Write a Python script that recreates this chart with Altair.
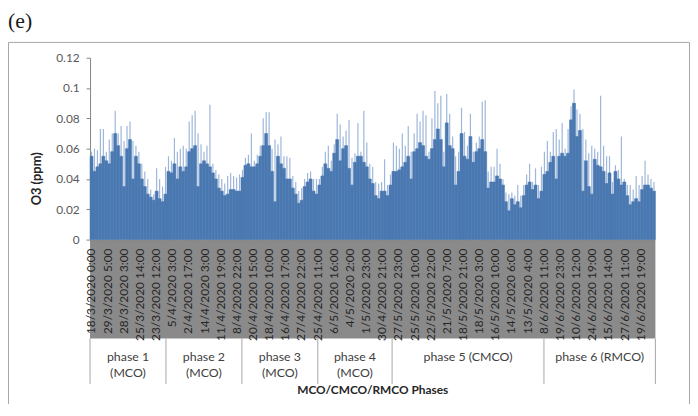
import altair as alt
import pandas as pd

# ---- values (O3 ppm), one sample per ~3 px ----
PEAK = [
    0.058, 0.060, 0.059, 0.073, 0.073, 0.058, 0.066, 0.070, 0.085, 0.070,
    0.075, 0.065, 0.075, 0.078, 0.065, 0.062, 0.058, 0.050, 0.045, 0.040,
    0.033, 0.030, 0.047, 0.040, 0.035, 0.048, 0.055, 0.052, 0.067, 0.058,
    0.060, 0.062, 0.060, 0.078, 0.082, 0.085, 0.070, 0.063, 0.058,
    0.062, 0.089, 0.050, 0.046, 0.043, 0.040, 0.037, 0.042, 0.044, 0.042,
    0.041, 0.043, 0.046, 0.054, 0.056, 0.070, 0.052, 0.056, 0.062, 0.080,
    0.084, 0.084, 0.060, 0.066, 0.063, 0.068, 0.055, 0.055, 0.054, 0.042,
    0.038, 0.032, 0.034, 0.040, 0.044, 0.045, 0.040, 0.040,
    0.040, 0.048, 0.058, 0.062, 0.052, 0.063, 0.083, 0.076, 0.068, 0.072,
    0.079, 0.054, 0.057, 0.077, 0.058, 0.085, 0.064, 0.050, 0.048, 0.038,
    0.037, 0.038, 0.053, 0.036, 0.043, 0.064, 0.062, 0.060, 0.070, 0.062,
    0.075, 0.058, 0.070, 0.083, 0.078, 0.085, 0.082, 0.058,
    0.080, 0.098, 0.090, 0.095, 0.058, 0.096, 0.083, 0.068, 0.055, 0.058,
    0.087, 0.071, 0.062, 0.083, 0.058, 0.064, 0.068, 0.091, 0.092, 0.045,
    0.048, 0.048, 0.060, 0.050, 0.040, 0.031, 0.030, 0.031, 0.029, 0.036,
    0.029, 0.036, 0.043, 0.050, 0.038, 0.047, 0.036, 0.048,
    0.058, 0.065, 0.058, 0.071, 0.073, 0.066, 0.077, 0.060, 0.073, 0.088,
    0.099, 0.086, 0.083, 0.073, 0.066, 0.057, 0.062, 0.060, 0.058, 0.095,
    0.062, 0.055, 0.055, 0.038, 0.049, 0.046, 0.068, 0.040, 0.036, 0.036,
    0.033, 0.042, 0.036, 0.042, 0.052, 0.043, 0.040, 0.038,
]
BODY = [
    0.055, 0.045, 0.048, 0.050, 0.055, 0.052, 0.050, 0.058, 0.070, 0.062,
    0.055, 0.035, 0.060, 0.066, 0.040, 0.055, 0.050, 0.040, 0.035, 0.030,
    0.028, 0.026, 0.032, 0.027, 0.025, 0.030, 0.045, 0.044, 0.050, 0.040,
    0.048, 0.045, 0.048, 0.058, 0.060, 0.062, 0.035, 0.050, 0.052,
    0.050, 0.048, 0.044, 0.040, 0.034, 0.032, 0.029, 0.030, 0.033, 0.033,
    0.032, 0.032, 0.041, 0.049, 0.050, 0.048, 0.048, 0.050, 0.055, 0.062,
    0.070, 0.062, 0.045, 0.025, 0.055, 0.050, 0.047, 0.040, 0.040, 0.034,
    0.030, 0.024, 0.026, 0.035, 0.038, 0.040, 0.032, 0.030,
    0.036, 0.042, 0.050, 0.047, 0.045, 0.057, 0.066, 0.052, 0.060, 0.062,
    0.047, 0.036, 0.051, 0.055, 0.055, 0.051, 0.048, 0.040, 0.037, 0.029,
    0.027, 0.032, 0.032, 0.029, 0.036, 0.045, 0.045, 0.046, 0.048, 0.051,
    0.055, 0.040, 0.058, 0.060, 0.064, 0.062, 0.055, 0.053,
    0.060, 0.066, 0.073, 0.066, 0.048, 0.077, 0.062, 0.060, 0.036, 0.045,
    0.070, 0.055, 0.053, 0.068, 0.051, 0.058, 0.060, 0.066, 0.058, 0.034,
    0.038, 0.038, 0.042, 0.040, 0.036, 0.025, 0.019, 0.027, 0.023, 0.025,
    0.021, 0.029, 0.036, 0.038, 0.033, 0.036, 0.027, 0.032,
    0.043, 0.045, 0.051, 0.055, 0.040, 0.055, 0.057, 0.055, 0.057, 0.079,
    0.090, 0.068, 0.072, 0.032, 0.052, 0.035, 0.030, 0.053, 0.049, 0.048,
    0.045, 0.037, 0.044, 0.030, 0.045, 0.040, 0.036, 0.038, 0.029, 0.023,
    0.025, 0.027, 0.025, 0.033, 0.036, 0.036, 0.034, 0.032,
]
DATE_LABELS = [
    "18/3/2020 0:00", "29/3/2020 5:00", "28/3/2020 3:00", "25/3/2020 14:00",
    "23/3/2020 12:00", "5/4/2020 3:00", "2/4/2020 17:00", "14/4/2020 3:00",
    "11/4/2020 19:00", "8/4/2020 22:00", "20/4/2020 15:00", "18/4/2020 10:00",
    "16/4/2020 17:00", "27/4/2020 22:00", "25/4/2020 11:00", "6/5/2020 16:00",
    "4/5/2020 2:00", "1/5/2020 23:00", "30/4/2020 21:00", "27/5/2020 23:00",
    "25/5/2020 10:00", "22/5/2020 22:00", "21/5/2020 7:00", "18/5/2020 21:00",
    "18/5/2020 3:00", "16/5/2020 10:00", "14/5/2020 6:00", "13/5/2020 4:00",
    "8/6/2020 11:00", "19/6/2020 23:00", "10/6/2020 12:00", "24/6/2020 19:00",
    "15/6/2020 14:00", "27/6/2020 11:00", "19/6/2020 19:00",
]
PHASE_LINE1 = ["phase 1", "phase 2", "phase 3", "phase 4", "phase 5 (CMCO)", "phase 6 (RMCO)"]
PHASE_LINE2 = ["(MCO)", "(MCO)", "(MCO)", "(MCO)", "", ""]
# phase boundaries in units of label slots (35 slots in total)
PHASE_BOUNDS_SLOTS = [0, 4.7, 9.4, 14.1, 18.7, 28.1, 35]
Y_TICKS = [0, 0.02, 0.04, 0.06, 0.08, 0.1, 0.12]

N = len(BODY)
SLOT = N / len(DATE_LABELS)
W, H = 572, 184

df = pd.DataFrame({
    "i": list(range(N)),
    "i2": [k + 1 for k in range(N)],
    "ic": [k + 0.5 for k in range(N)],
    "body": BODY,
    "peak": PEAK,
})
lab_df = pd.DataFrame({"pos": [k * SLOT + 0.5 for k in range(len(DATE_LABELS))],
                       "label": DATE_LABELS})
bounds = [b * SLOT for b in PHASE_BOUNDS_SLOTS]
div_df = pd.DataFrame({"b": bounds})
ph_df = pd.DataFrame({
    "mid": [(bounds[k] + bounds[k + 1]) / 2 for k in range(len(PHASE_LINE1))],
    "l1": PHASE_LINE1,
    "l2": PHASE_LINE2,
})
band_df = pd.DataFrame({"a": [0], "b": [N]})

xs = alt.Scale(domain=[0, N], nice=False, zero=False)
ys = alt.Scale(domain=[0, 0.12], nice=False)
yaxis = alt.Axis(
    values=Y_TICKS, format=".2~f", grid=False,
    domainColor="#868686", tickColor="#868686", tickSize=4, labelPadding=7,
    labelFont="Lato", labelFontSize=12, labelColor="#595959",
    title="O3 (ppm)", titleFont="Lato", titleFontSize=13, titleFontWeight="bold",
    titleColor="#262626", titleAngle=270, titleX=-47, titleY=122,
    titleAlign="center", titleBaseline="bottom")

deco = alt.Chart(alt.Data(values=[{"t": "(e)"}]))
border = deco.mark_rect(fillOpacity=0, stroke="#a6a6a6", strokeWidth=1).encode(
    x=alt.value(-82.5), x2=alt.value(606.5), y=alt.value(-15.5), y2=alt.value(420))
etext = deco.mark_text(font="Liberation Serif", fontSize=22, align="left",
                       baseline="alphabetic", color="#1a1a1a").encode(
    x=alt.value(-83), y=alt.value(-30), text="t:N")

band = alt.Chart(band_df).mark_rect(color="#8a8a8a").encode(
    x=alt.X("a:Q", scale=xs, axis=None), x2="b:Q",
    y=alt.value(H), y2=alt.value(H + 100))

peaks = alt.Chart(df).mark_rule(color="#9db6da", strokeWidth=1.2).encode(
    x=alt.X("ic:Q", scale=xs, axis=None),
    y=alt.Y("peak:Q", scale=ys, axis=yaxis),
    y2=alt.datum(0))

body = alt.Chart(df).mark_rect(color="#4a78b1", stroke="#4a78b1", strokeWidth=0.6).encode(
    x=alt.X("i:Q", scale=xs, axis=None), x2="i2:Q",
    y=alt.Y("body:Q", scale=ys, axis=yaxis),
    y2=alt.datum(0))

dates = alt.Chart(lab_df).mark_text(angle=270, align="right", baseline="middle",
                                    font="Lato", fontSize=12, color="#262626").encode(
    x=alt.X("pos:Q", scale=xs, axis=None), y=alt.value(H + 9), text="label:N")

dividers = alt.Chart(div_df).mark_rule(color="#a6a6a6", strokeWidth=1).encode(
    x=alt.X("b:Q", scale=xs, axis=None), y=alt.value(H + 100), y2=alt.value(H + 146))

ph1 = alt.Chart(ph_df).mark_text(font="Lato", fontSize=12.5, color="#404040").encode(
    x=alt.X("mid:Q", scale=xs, axis=None), y=alt.value(H + 119), text="l1:N")
ph2 = alt.Chart(ph_df).mark_text(font="Lato", fontSize=12.5, color="#404040").encode(
    x=alt.X("mid:Q", scale=xs, axis=None), y=alt.value(H + 135), text="l2:N")

xtitle = deco.mark_text(font="Lato", fontSize=12, fontWeight="bold", color="#262626").encode(
    x=alt.value(W / 2), y=alt.value(H + 152), text=alt.value("MCO/CMCO/RMCO Phases"))

chart = alt.layer(border, etext, band, peaks, body, dates, dividers, ph1, ph2, xtitle).properties(
    width=W, height=H,
    autosize=alt.AutoSizeParams(type="none"),
    padding={"left": 83, "top": 48, "right": 35, "bottom": 164},
    background="white",
).configure_view(strokeWidth=0)

chart.save("out.html", embed_options={"renderer": "svg", "actions": False})
